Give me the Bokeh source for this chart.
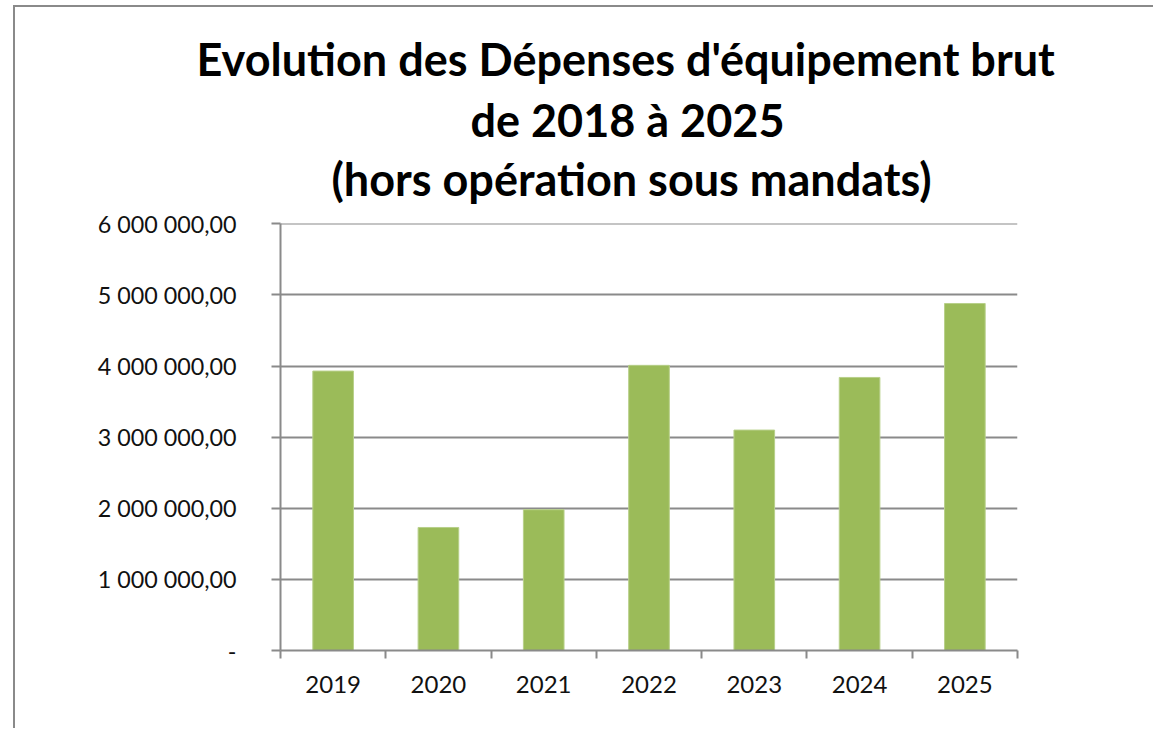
from bokeh.plotting import figure
from bokeh.models import Range1d, FixedTicker, Title, ColumnDataSource
from bokeh.embed import file_html
from bokeh.resources import INLINE

# ---- data ----
years = ["2019", "2020", "2021", "2022", "2023", "2024", "2025"]
depenses = [3930000, 1730000, 1980000, 4010000, 3100000, 3840000, 4880000]
y_ticks = [0, 1000000, 2000000, 3000000, 4000000, 5000000, 6000000]
y_tick_labels = ["-", "1 000 000,00", "2 000 000,00", "3 000 000,00",
                 "4 000 000,00", "5 000 000,00", "6 000 000,00"]
title_lines = ["Evolution des Dépenses d'équipement brut",
               "de 2018 à 2025",
               "(hors opération sous mandats)"]

GRAY = "#8a8a8a"
GREEN = "#9BBB59"
FONT = "Lato"

idx = list(range(len(years)))
src = ColumnDataSource(dict(x=idx, top=depenses))

p = figure(width=1140, height=723, output_backend="svg", toolbar_location=None,
           x_range=Range1d(-0.5, len(years) - 0.5), y_range=Range1d(0, 6005000),
           min_border_left=265, min_border_right=138, min_border_top=216,
           min_border_bottom=80)
p.styles = {"border-left": "2px solid " + GRAY, "border-top": "2px solid " + GRAY,
            "margin-left": "13px", "margin-top": "5px"}
p.outline_line_color = None
p.background_fill_color = "white"
p.border_fill_color = "white"

p.vbar(x="x", top="top", width=0.386, bottom=0, source=src,
       fill_color=GREEN, line_color="#b8d08a", line_width=1)

# blank spacer between the plot frame and the title block
p.add_layout(Title(text=" ", text_font=FONT, text_font_size="13px", standoff=0), "above")

# three-line title, left-anchored with offsets so each line is centred
# on the chart area rather than on the plot frame
title_offsets = [-84, 190, 51]
title_standoffs = [4, 6, 0]
for line, off, so in reversed(list(zip(title_lines, title_offsets, title_standoffs))):
    p.add_layout(Title(text=line, align="left", offset=off, standoff=so,
                       text_font=FONT, text_font_size="45px",
                       text_font_style="bold", text_color="#000000"), "above")

# x axis
xa = p.xaxis[0]
xa.ticker = FixedTicker(ticks=idx, minor_ticks=[i - 0.5 for i in range(len(years) + 1)])
xa.major_label_overrides = {i: y for i, y in zip(idx, years)}
xa.axis_line_color = GRAY
xa.axis_line_width = 2
xa.major_tick_out = 0
xa.major_tick_in = 0
xa.minor_tick_out = 8
xa.minor_tick_in = 0
xa.minor_tick_line_color = GRAY
xa.minor_tick_line_width = 2
xa.major_label_text_font = FONT
xa.major_label_text_font_size = "24px"
xa.major_label_text_color = "#111111"
xa.major_label_standoff = 17

# y axis
ya = p.yaxis[0]
ya.ticker = FixedTicker(ticks=y_ticks, minor_ticks=[])
ya.major_label_overrides = {t: l for t, l in zip(y_ticks, y_tick_labels)}
ya.axis_line_color = GRAY
ya.axis_line_width = 2
ya.major_tick_out = 9
ya.major_tick_in = 0
ya.major_tick_line_color = GRAY
ya.major_tick_line_width = 2
ya.minor_tick_out = 0
ya.minor_tick_in = 0
ya.major_label_text_font = FONT
ya.major_label_text_font_size = "23.3px"
ya.major_label_text_color = "#111111"
ya.major_label_standoff = 35

p.xgrid.grid_line_color = None
p.ygrid.grid_line_color = GRAY
p.ygrid.grid_line_width = 2
p.ygrid.ticker = FixedTicker(ticks=y_ticks)

open("out.html", "w").write(file_html(p, INLINE))
